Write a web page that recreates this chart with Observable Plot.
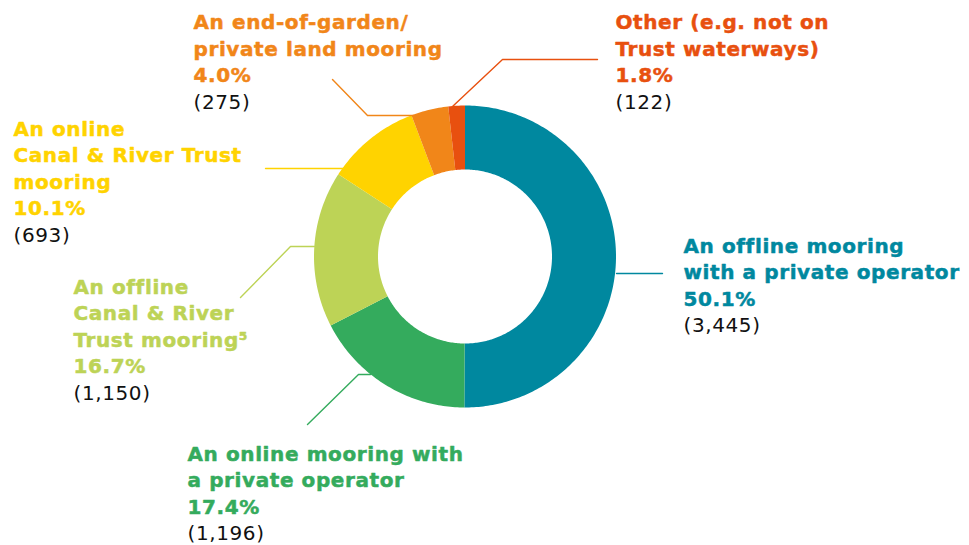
<!DOCTYPE html>
<html>
<head>
<meta charset="utf-8">
<script src="https://cdn.jsdelivr.net/npm/d3@7"></script>
<script src="https://cdn.jsdelivr.net/npm/@observablehq/plot@0.6"></script>
<style>
  html, body { margin: 0; padding: 0; background: #fff; }
  #chart svg { display: block; }
</style>
</head>
<body>
<div id="chart"></div>
<script>
// ---- Data ----
const categories = [
  "An offline mooring\nwith a private operator",
  "An online mooring with\na private operator",
  "An offline\nCanal & River\nTrust mooring\u2075",
  "An online\nCanal & River Trust\nmooring",
  "An end-of-garden/\nprivate land mooring",
  "Other (e.g. not on\nTrust waterways)"
];
const percentLabels = ["50.1%", "17.4%", "16.7%", "10.1%", "4.0%", "1.8%"];
const counts = [3445, 1196, 1150, 693, 275, 122];
const countLabels = ["(3,445)", "(1,196)", "(1,150)", "(693)", "(275)", "(122)"];
const colors = ["#00889f", "#34ab5d", "#bdd356", "#ffd300", "#f18619", "#e8500f"];

// ---- Layout (pixels) ----
const W = 969, H = 545;
const cx = 465, cy = 256.5, R = 151, r = 87;
const lineStep = 26.5;
const labelAnchors = [ // [x, first baseline]
  [683, 252], [187, 460], [73, 293], [13, 135], [193, 28.5], [615, 28.5]
];
const leaders = [
  [[616, 273], [662, 273]],
  [[370, 374], [358, 374], [307, 424]],
  [[314, 246], [290, 246], [240, 297]],
  [[343, 168], [265, 168]],
  [[413, 115], [367, 115], [332, 79]],
  [[452, 106], [502, 59], [597, 59]]
];

// ---- Build geometry from data ----
const pie = d3.pie().sort(null).value(d => d)(counts);
const arcPts = [];
pie.forEach((p, i) => {
  const n = Math.max(4, Math.ceil((p.endAngle - p.startAngle) / (Math.PI * 2) * 400));
  for (let k = 0; k <= n; k++) {
    const a = p.startAngle + (p.endAngle - p.startAngle) * k / n;
    arcPts.push({
      cat: categories[i],
      xo: cx + R * Math.sin(a), yo: cy - R * Math.cos(a),
      xi: cx + r * Math.sin(a), yi: cy - r * Math.cos(a)
    });
  }
});

const leaderPts = [];
leaders.forEach((pts, i) => pts.forEach(([x, y]) => leaderPts.push({cat: categories[i], x, y})));

const boldLines = [], countRows = [];
categories.forEach((c, i) => {
  const [x, y0] = labelAnchors[i];
  const lines = c.split("\n").concat([percentLabels[i]]);
  lines.forEach((t, j) => boldLines.push({cat: c, text: t, x, y: y0 + j * lineStep}));
  countRows.push({cat: c, text: countLabels[i], x, y: y0 + lines.length * lineStep});
});

const chart = Plot.plot({
  width: W, height: H,
  margin: 0,
  x: {domain: [0, W], range: [0, W], axis: null},
  y: {domain: [0, H], range: [0, H], axis: null},
  color: {domain: categories, range: colors},
  style: {background: "#fff", letterSpacing: "0.6px"},
  marks: [
    Plot.area(arcPts, {x1: "xo", y1: "yo", x2: "xi", y2: "yi", z: "cat", fill: "cat", curve: "linear"}),
    Plot.line(leaderPts, {x: "x", y: "y", z: "cat", stroke: "cat", strokeWidth: 1.4}),
    Plot.text(boldLines, {x: "x", y: "y", text: "text", fill: "cat", stroke: "cat", strokeWidth: 0.5,
      textAnchor: "start", lineAnchor: "bottom",
      fontFamily: "DejaVu Sans", fontWeight: 700, fontSize: 20}),
    Plot.text(countRows, {x: "x", y: "y", text: "text", fill: "#111", textAnchor: "start", lineAnchor: "bottom",
      fontFamily: "DejaVu Sans", fontWeight: 400, fontSize: 20})
  ]
});
document.getElementById("chart").appendChild(chart);
</script>
</body>
</html>
